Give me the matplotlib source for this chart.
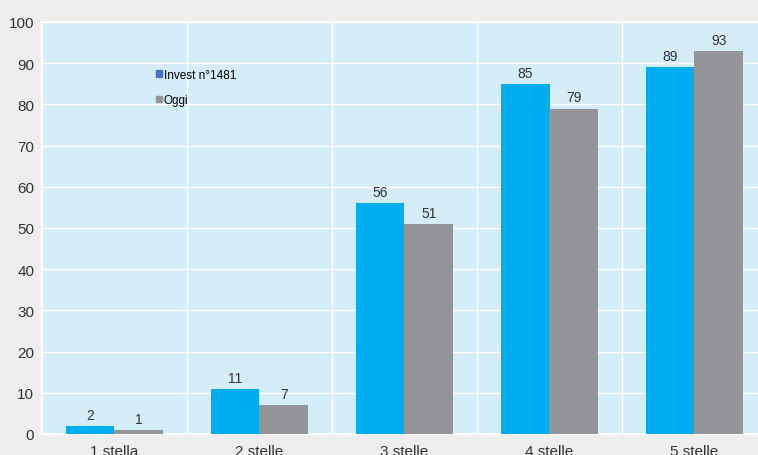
import matplotlib
matplotlib.use("Agg")
import matplotlib.pyplot as plt
import numpy as np
from matplotlib.patches import Patch

plt.rcParams['font.family'] = ['Liberation Sans', 'DejaVu Sans']

categories = ["1 stella", "2 stelle", "3 stelle", "4 stelle", "5 stelle"]
invest = [2, 11, 56, 85, 89]
oggi = [1, 7, 51, 79, 93]
series_names = ["Invest n°1481", "Oggi"]

fig = plt.figure(figsize=(7.58, 4.56), dpi=100)
fig.patch.set_facecolor("#eeeeee")
W, H = 758, 456
left, right, top, bottom = 42, 767, 23, 435
ax = fig.add_axes([left / W, 1 - bottom / H, (right - left) / W, (bottom - top) / H])
ax.set_facecolor("#d5ecf9")

x = np.arange(len(categories))
bw = 0.335
b1 = ax.bar(x - bw / 2, invest, bw, color="#00aeef", zorder=3)
b2 = ax.bar(x + bw / 2, oggi, bw, color="#939598", zorder=3)
for bars in (b1, b2):
    ax.bar_label(bars, padding=3, fontsize=10, color="#333333")

ax.set_xlim(-0.5, 4.5)
ax.set_ylim(0, 100)
ax.set_yticks(np.arange(0, 101, 10))
ax.set_xticks(x)
ax.set_xticklabels(categories)
ax.tick_params(axis="both", length=0, labelsize=11, colors="#333333")
ax.tick_params(axis="x", pad=7.5)
ax.tick_params(axis="y", pad=5.5)
ax.yaxis.grid(True, color="white", linewidth=1, zorder=1)
for b in np.arange(0.5, 4.5, 1):
    ax.axvline(b, color="white", linewidth=1, zorder=1)
for s in ax.spines.values():
    s.set_color("white")
    s.set_linewidth(1.2)

handles = [Patch(color="#4472c4"), Patch(color="#939598")]
leg = ax.legend(handles, series_names, loc="upper left",
                bbox_to_anchor=((151 - left) / (right - left), 1 - (65 - top) / (bottom - top)),
                frameon=False, fontsize=8.5, handlelength=0.5, handleheight=0.5,
                handletextpad=0.2, labelspacing=1.15, borderaxespad=0)

fig.savefig("out.png", dpi=100, facecolor=fig.get_facecolor())
